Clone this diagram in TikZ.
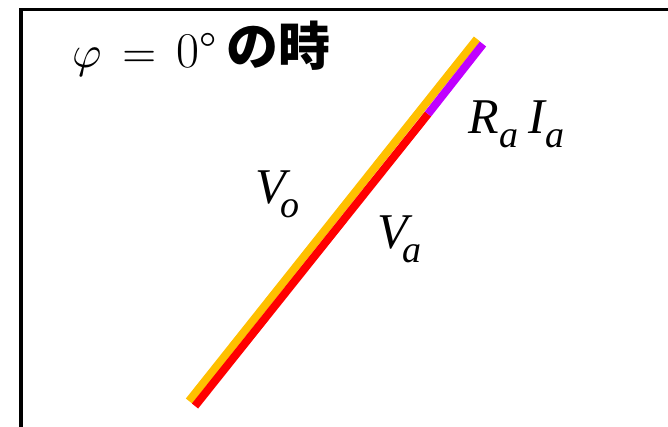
\documentclass[tikz,border=0pt]{standalone}
\usepackage{fontspec}
\usepackage{unicode-math}
\setmathfont{Latin Modern Math}
\newfontfamily\jp{Noto Sans CJK JP}
\newfontfamily\tms{Liberation Serif}
\definecolor{vorange}{HTML}{FFC000}
\definecolor{vred}{HTML}{FF0000}
\definecolor{vpurple}{HTML}{C000FF}
\newcommand{\bigit}{\tms\itshape\fontsize{50}{54}\selectfont}
\newcommand{\subit}[1]{\raisebox{-14pt}{\tms\itshape\fontsize{38}{40}\selectfont #1}}
\tikzset{
  frameline/.style={line width=3.5pt, black},
  vec/.style={line width=8pt, line cap=butt},
  lbl/.style={inner sep=0pt, anchor=base west},
}
\begin{document}
\begin{tikzpicture}[x=1pt,y=-1pt]
\useasboundingbox (0,0) rectangle (668,426);
\fill[white] (0,0) rectangle (668,426);
% frame
\coordinate (fr) at (675,9.5);
\coordinate (fc) at (21,9.5);
\coordinate (fb) at (21,432);
\draw[frameline] (fr) -- (fc) -- (fb);
% vectors
\coordinate (ob) at (189,401);
\coordinate (ot) at (477,39);
\coordinate (rb) at (195,406);
\coordinate (rj) at (428,114);
\coordinate (rt) at (483,44);
\draw[vec, vorange] (ob) -- (ot);
\draw[vec, vred] (rb) -- (rj);
\draw[vec, vpurple] (rj) -- (rt);
% title
\node[lbl] (tphi) at (72,67) {\fontsize{45}{48}\selectfont$\varphi$};
\node[lbl] (teq) at (122.5,67) {\fontsize{44}{48}\selectfont$=$};
\node[lbl] (tzero) at (176,67) {\fontsize{50}{54}\selectfont 0°};
\node[lbl] (tjp) at (226,65) {\jp\bfseries\fontsize{52}{56}\selectfont の時};
% labels
\node[lbl] (rai) at (468.6,133) {\bigit R\subit{a}\kern10pt I\subit{a}};
\node[lbl] (vo) at (255.5,203) {\bigit V\kern-6pt\subit{o}};
\node[lbl] (va) at (377.5,248) {\bigit V\kern-6pt\subit{a}};
\end{tikzpicture}
\end{document}
